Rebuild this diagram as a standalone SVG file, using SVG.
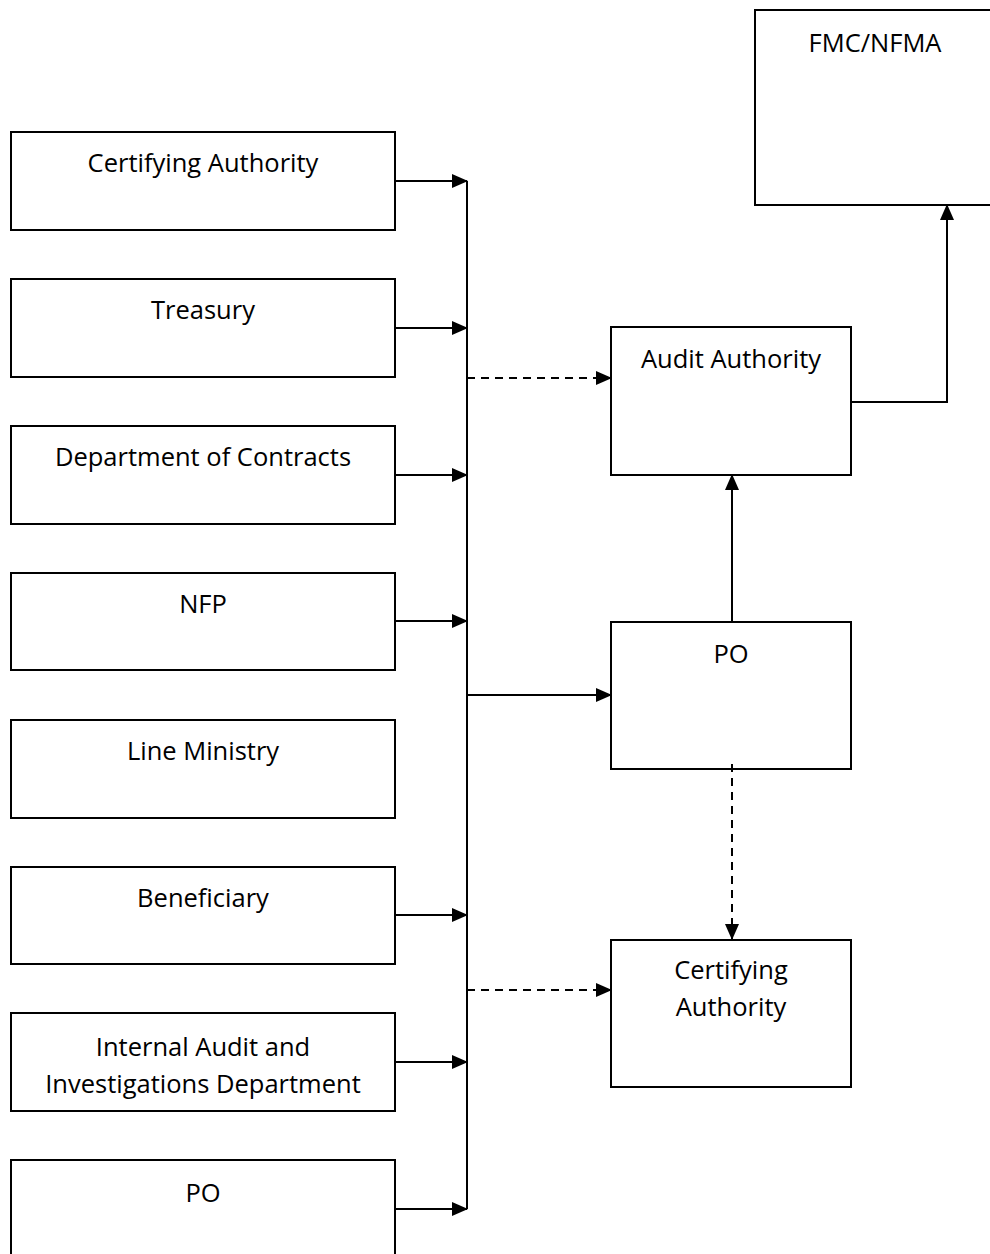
<svg xmlns="http://www.w3.org/2000/svg" width="990" height="1254" viewBox="0 0 990 1254">
<style>
.box{fill:#fff;stroke:#000;stroke-width:2}
.t{font-family:"Open Sans","Liberation Sans",sans-serif;font-size:25.5px;fill:#000;text-anchor:middle}
.c{fill:none;stroke:#000;stroke-width:2}
.d{stroke-dasharray:8,6}
</style>
<defs>
<marker id="ah" markerWidth="16" markerHeight="14" refX="15" refY="7" orient="auto" markerUnits="userSpaceOnUse">
<path d="M0,0 L16,7 L0,14 Z" fill="#000"/>
</marker>
</defs>
<rect width="990" height="1254" fill="#fff"/>
<g id="n-ca-left"><rect class="box" x="11" y="132" width="384" height="98"/><text class="t" x="203" y="172">Certifying Authority</text></g>
<g id="n-treasury"><rect class="box" x="11" y="279" width="384" height="98"/><text class="t" x="203" y="319">Treasury</text></g>
<g id="n-doc"><rect class="box" x="11" y="426" width="384" height="98"/><text class="t" x="203" y="466">Department of Contracts</text></g>
<g id="n-nfp"><rect class="box" x="11" y="573" width="384" height="97"/><text class="t" x="203" y="613">NFP</text></g>
<g id="n-lm"><rect class="box" x="11" y="720" width="384" height="98"/><text class="t" x="203" y="760">Line Ministry</text></g>
<g id="n-ben"><rect class="box" x="11" y="867" width="384" height="97"/><text class="t" x="203" y="907">Beneficiary</text></g>
<g id="n-iaid"><rect class="box" x="11" y="1013" width="384" height="98"/><text class="t" x="203" y="1056">Internal Audit and</text><text class="t" x="203" y="1093">Investigations Department</text></g>
<g id="n-po-left"><rect class="box" x="11" y="1160" width="384" height="110"/><text class="t" x="203" y="1202">PO</text></g>
<g id="n-aa"><rect class="box" x="611" y="327" width="240" height="148"/><text class="t" x="731" y="368">Audit Authority</text></g>
<g id="n-po"><rect class="box" x="611" y="622" width="240" height="147"/><text class="t" x="731" y="663">PO</text></g>
<g id="n-ca-right"><rect class="box" x="611" y="940" width="240" height="147"/><text class="t" x="731" y="979">Certifying</text><text class="t" x="731" y="1016">Authority</text></g>
<g id="n-fmc"><rect class="box" x="755" y="10" width="250" height="195"/><text class="t" x="875" y="52">FMC/NFMA</text></g>
<g id="connectors">
<line class="c" x1="467" y1="181" x2="467" y2="1209"/>
<line class="c" x1="395" y1="181" x2="467" y2="181" marker-end="url(#ah)"/>
<line class="c" x1="395" y1="328" x2="467" y2="328" marker-end="url(#ah)"/>
<line class="c" x1="395" y1="475" x2="467" y2="475" marker-end="url(#ah)"/>
<line class="c" x1="395" y1="621" x2="467" y2="621" marker-end="url(#ah)"/>
<line class="c" x1="395" y1="915" x2="467" y2="915" marker-end="url(#ah)"/>
<line class="c" x1="395" y1="1062" x2="467" y2="1062" marker-end="url(#ah)"/>
<line class="c" x1="395" y1="1209" x2="467" y2="1209" marker-end="url(#ah)"/>
<line class="c d" x1="467" y1="378" x2="611" y2="378" marker-end="url(#ah)"/>
<line class="c" x1="467" y1="695" x2="611" y2="695" marker-end="url(#ah)"/>
<line class="c d" x1="467" y1="990" x2="611" y2="990" marker-end="url(#ah)"/>
<line class="c" x1="732" y1="622" x2="732" y2="475" marker-end="url(#ah)"/>
<line class="c d" x1="732" y1="764" x2="732" y2="939" marker-end="url(#ah)"/>
<polyline class="c" points="851,402 947,402 947,205" marker-end="url(#ah)"/>
</g>
</svg>
